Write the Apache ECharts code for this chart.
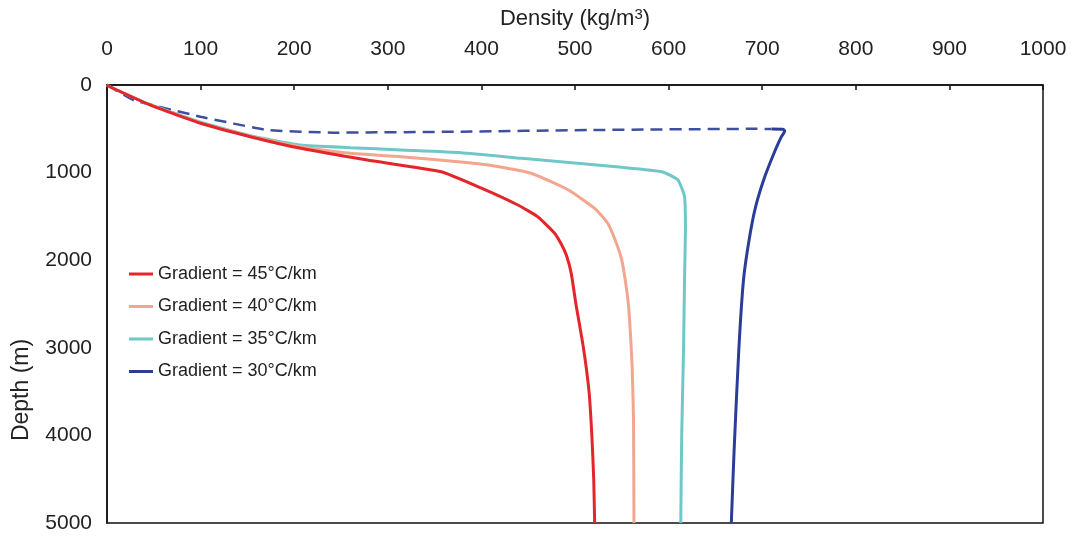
<!DOCTYPE html>
<html>
<head>
<meta charset="utf-8">
<script src="https://cdn.jsdelivr.net/npm/echarts@6/dist/echarts.min.js"></script>
<style>
  html, body { margin: 0; padding: 0; background: #fff; }
  #chart { width: 1075px; height: 536px; }
</style>
</head>
<body>
<div id="chart"></div>
<script>
// density (kg/m3) vs depth (m)
const g45Density = [0, 3, 46, 100, 153, 207, 278, 357, 400, 439, 460, 478, 486, 491, 496, 501, 509, 515, 518, 520, 521]
const g45Depth = [0, 20, 228, 437, 590, 723, 856, 990, 1177, 1370, 1503, 1690, 1830, 1950, 2150, 2500, 3000, 3500, 4000, 4500, 5000]

const g40Density = [0, 3, 46, 100, 153, 207, 260, 314, 378, 407, 453, 493, 521, 535, 544, 550, 554, 557, 559, 561, 562.5, 563]
const g40Depth = [0, 20, 226, 432, 585, 705, 780, 818, 880, 913, 1007, 1199, 1408, 1579, 1800, 2000, 2250, 2500, 2800, 3200, 3800, 5000]

const g35Density = [0, 3, 46, 100, 153, 207, 260, 314, 378, 443, 550, 593, 610, 617, 618, 617, 616, 614, 613]
const g35Depth = [0, 20, 222, 425, 578, 685, 715, 742, 773, 837, 940, 990, 1085, 1275, 1655, 2226, 3000, 4000, 5000]

// 30°C/km: dashed upper part, then solid branch
const g30DashDensity = [0, 28, 100, 171, 242, 378, 514, 693, 710]
const g30DashDepth = [0, 171, 362, 514, 544, 533, 514, 500, 502]
const g30Density = [710, 722, 724, 720, 714, 703, 693, 686, 680, 675, 670, 667]
const g30Depth = [502, 504, 525, 600, 742, 1040, 1389, 1769, 2226, 3025, 4167, 5000]

const names = ['Gradient = 45°C/km', 'Gradient = 40°C/km', 'Gradient = 35°C/km', 'Gradient = 30°C/km']
const colors = ['#e3262b', '#f2a68f', '#70c7c8', '#2a3d98']

const pairs = (xs, ys) => xs.map((x, i) => [x, ys[i]])

const chart = echarts.init(document.getElementById('chart'))

const lineSeries = (name, data, color, extra) => Object.assign({
  name: name,
  type: 'line',
  data: data,
  symbol: 'none',
  smooth: 0.15,
  lineStyle: { color: color, width: 3 },
  itemStyle: { color: color },
  z: 3
}, extra || {})

chart.setOption({
  animation: false,
  textStyle: { fontFamily: 'Liberation Sans, Arial, sans-serif' },
  grid: {
    left: 107, right: 32, top: 85, bottom: 13,
    outerBoundsMode: 'none',
    show: true, borderColor: '#111', borderWidth: 1.5
  },
  legend: {
    data: names,
    orient: 'vertical',
    left: 124, top: 260,
    icon: 'rect',
    itemWidth: 24, itemHeight: 3,
    itemGap: 14.5,
    textStyle: { fontSize: 18, color: '#222' }
  },
  xAxis: {
    type: 'value',
    position: 'top',
    min: 0, max: 1000, interval: 100,
    name: '{n|Density (kg/m}{s|3}{n|)}',
    nameLocation: 'middle',
    nameGap: 54,
    nameTextStyle: {
      rich: {
        n: { fontSize: 22, color: '#222' },
        s: { fontSize: 15, color: '#222', verticalAlign: 'top', padding: [0, 0, 9, 0] }
      }
    },
    axisLine: { lineStyle: { color: '#111', width: 1.5 } },
    axisTick: { inside: true, length: 5, lineStyle: { color: '#111', width: 1.5 } },
    axisLabel: { fontSize: 21, color: '#222', margin: 25, formatter: v => String(v) },
    splitLine: { show: false }
  },
  yAxis: {
    type: 'value',
    inverse: true,
    min: 0, max: 5000, interval: 1000,
    axisLine: { lineStyle: { color: '#111', width: 1.5 } },
    axisTick: { show: false },
    axisLabel: { fontSize: 21, color: '#222', margin: 15, formatter: v => String(v) },
    splitLine: { show: false }
  },
  graphic: [{
    type: 'text',
    x: 22, y: 390,
    rotation: Math.PI / 2,
    style: {
      text: 'Depth (m)',
      fontSize: 23,
      fontFamily: 'Liberation Sans, Arial, sans-serif',
      fill: '#222',
      align: 'center',
      verticalAlign: 'middle'
    }
  }],
  series: [
    lineSeries(names[0], pairs(g45Density, g45Depth), colors[0], { z: 6 }),
    lineSeries(names[1], pairs(g40Density, g40Depth), colors[1], { z: 5 }),
    lineSeries(names[2], pairs(g35Density, g35Depth), colors[2], { z: 4 }),
    lineSeries(names[3], pairs(g30Density, g30Depth), colors[3], { smooth: 0.2 }),
    lineSeries('30 dashed', pairs(g30DashDensity, g30DashDepth), '#3f4f9f', {
      smooth: 0.1,
      lineStyle: { color: '#3f4f9f', width: 2.5, type: [12, 7] }
    })
  ]
})
</script>
</body>
</html>
